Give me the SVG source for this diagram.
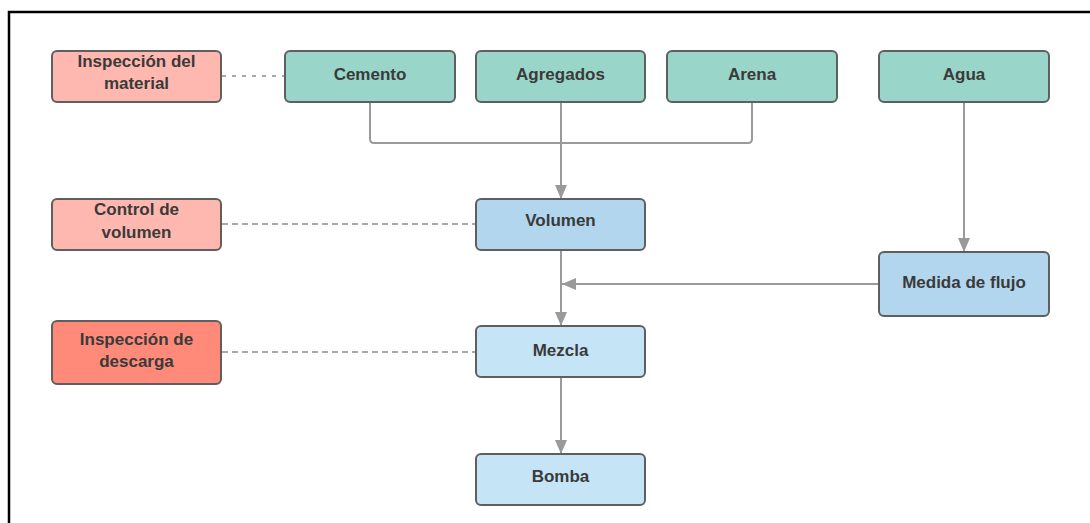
<svg xmlns="http://www.w3.org/2000/svg" width="1090" height="523" viewBox="0 0 1090 523">
  <defs>
    <marker id="arrow" viewBox="0 0 14 12" refX="14" refY="6" markerWidth="14" markerHeight="12" markerUnits="userSpaceOnUse" orient="auto">
      <path d="M0,0 L14,6 L0,12 Z" fill="#9a9a9a"/>
    </marker>
    <style>
      .box { stroke: #5f5f5f; stroke-width: 2; }
      .teal { fill: #99d5c9; }
      .pink { fill: #ffb8b0; }
      .red { fill: #ff8a7a; }
      .blue { fill: #b3d6ef; }
      .sky { fill: #c5e5f6; }
      .lbl { font-family: "Liberation Sans", Arial, sans-serif; font-size: 17px; font-weight: bold; fill: #3a3a3a; text-anchor: middle; }
      .flow { fill: none; stroke: #9a9a9a; stroke-width: 2; }
      .dash { fill: none; stroke: #a8a8a8; stroke-width: 2; stroke-dasharray: 6 4; }
      .dot { fill: none; stroke: #a8a8a8; stroke-width: 2; stroke-dasharray: 4 6; }
    </style>
  </defs>

  <rect width="1090" height="523" fill="#ffffff"/>
  <!-- frame -->
  <path d="M9,523 V12 H1090" fill="none" stroke="#000000" stroke-width="2.5"/>

  <g id="connectors">
    <path class="dot" d="M222,76 H285"/>
    <path class="dash" d="M222,224 H476"/>
    <path class="dash" d="M222,352 H476"/>
    <path class="flow" d="M370,102 V139 Q370,143 374,143 H748 Q752,143 752,139 V102"/>
    <path class="flow" d="M561,102 V199" marker-end="url(#arrow)"/>
    <path class="flow" d="M964,102 V252" marker-end="url(#arrow)"/>
    <path class="flow" d="M561,251 V326" marker-end="url(#arrow)"/>
    <path class="flow" d="M879,284 H562" marker-end="url(#arrow)"/>
    <path class="flow" d="M561,378 V454" marker-end="url(#arrow)"/>
  </g>

  <g id="inspeccion-material">
    <rect class="box pink" x="52" y="51" width="169" height="51" rx="5"/>
    <text class="lbl" x="136.5" y="67">Inspección del</text>
    <text class="lbl" x="136.5" y="89">material</text>
  </g>
  <g id="cemento">
    <rect class="box teal" x="285" y="51" width="170" height="51" rx="5"/>
    <text class="lbl" x="370" y="80">Cemento</text>
  </g>
  <g id="agregados">
    <rect class="box teal" x="476" y="51" width="169" height="51" rx="5"/>
    <text class="lbl" x="560.5" y="80">Agregados</text>
  </g>
  <g id="arena">
    <rect class="box teal" x="667" y="51" width="170" height="51" rx="5"/>
    <text class="lbl" x="752" y="80">Arena</text>
  </g>
  <g id="agua">
    <rect class="box teal" x="879" y="51" width="170" height="51" rx="5"/>
    <text class="lbl" x="964" y="80">Agua</text>
  </g>
  <g id="control-volumen">
    <rect class="box pink" x="52" y="199" width="169" height="51" rx="5"/>
    <text class="lbl" x="136.5" y="215">Control de</text>
    <text class="lbl" x="136.5" y="238">volumen</text>
  </g>
  <g id="volumen">
    <rect class="box blue" x="476" y="199" width="169" height="51" rx="5"/>
    <text class="lbl" x="560.5" y="226">Volumen</text>
  </g>
  <g id="medida-flujo">
    <rect class="box blue" x="879" y="252" width="170" height="64" rx="5"/>
    <text class="lbl" x="964" y="288">Medida de flujo</text>
  </g>
  <g id="inspeccion-descarga">
    <rect class="box red" x="52" y="321" width="169" height="63" rx="5"/>
    <text class="lbl" x="136.5" y="345">Inspección de</text>
    <text class="lbl" x="136.5" y="367">descarga</text>
  </g>
  <g id="mezcla">
    <rect class="box sky" x="476" y="326" width="169" height="51" rx="5"/>
    <text class="lbl" x="560.5" y="356">Mezcla</text>
  </g>
  <g id="bomba">
    <rect class="box sky" x="476" y="454" width="169" height="51" rx="5"/>
    <text class="lbl" x="560.5" y="482">Bomba</text>
  </g>
</svg>
